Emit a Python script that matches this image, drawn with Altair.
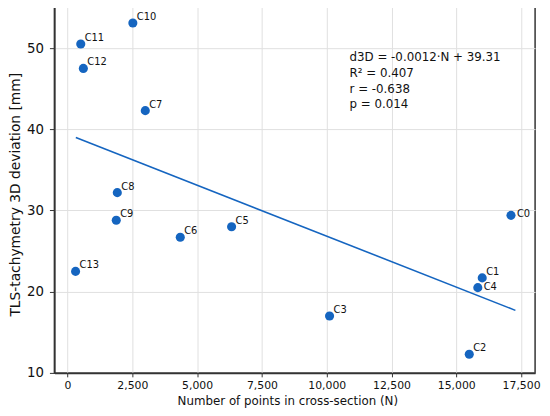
import altair as alt
import pandas as pd

# Data
names = ["C0", "C1", "C2", "C3", "C4", "C5", "C6", "C7", "C8", "C9", "C10", "C11", "C12", "C13"]
n_points = [17110, 16000, 15500, 10110, 15830, 6330, 4350, 3000, 1920, 1880, 2520, 510, 610, 310]
deviation = [29.4, 21.7, 12.3, 17.0, 20.5, 28.0, 26.7, 42.3, 32.2, 28.8, 53.1, 50.5, 47.5, 22.5]

fit_n = [320, 17280]
fit_d = [39.0, 17.7]

side_labels = ["C0", "C4"]

x_ticks = [0, 2500, 5000, 7500, 10000, 12500, 15000, 17500]
y_ticks = [10, 20, 30, 40, 50]

annotation = "d3D = -0.0012·N + 39.31\nR² = 0.407\nr = -0.638\np = 0.014"

BLUE = "#1565C0"
FONT = "DejaVu Sans"

df = pd.DataFrame({"name": names, "N": n_points, "d": deviation})
df["side"] = df["name"].isin(side_labels)
fit = pd.DataFrame({"N": fit_n, "d": fit_d})

xscale = alt.Scale(domain=[-507, 18040], nice=False, zero=False)
yscale = alt.Scale(domain=[10, 55.1], nice=False, zero=False)

x_enc = alt.X(
    "N:Q", scale=xscale,
    axis=alt.Axis(
        values=x_ticks, format=",.0f", title="Number of points in cross-section (N)",
        labelFontSize=11, labelPadding=3, tickSize=4,
        titleFontSize=12, titleFontWeight="normal", titleBaseline="middle",
        titleX=236, titleY=28.5, titleAlign="center",
    ),
)
y_enc = alt.Y(
    "d:Q", scale=yscale,
    axis=alt.Axis(
        values=y_ticks, title="TLS-tachymetry 3D deviation [mm]",
        labelFontSize=13.5, labelPadding=6, tickSize=5,
        titleFontSize=14, titleFontWeight="normal", titleBaseline="middle",
        titleX=-39, titleY=190, titleAlign="center", titleAngle=270,
    ),
)

line = alt.Chart(fit).mark_line(color=BLUE, strokeWidth=1.6).encode(x=x_enc, y=y_enc)

points = alt.Chart(df).mark_circle(color=BLUE, size=85, opacity=1).encode(x=x_enc, y=y_enc)

labels_top = alt.Chart(df).transform_filter("!datum.side").mark_text(
    align="left", baseline="alphabetic", dx=4, dy=-3, fontSize=10, font=FONT, color="#111"
).encode(x=x_enc, y=y_enc, text="name:N")

labels_side = alt.Chart(df).transform_filter("datum.side").mark_text(
    align="left", baseline="middle", dx=6, dy=-1, fontSize=10, font=FONT, color="#111"
).encode(x=x_enc, y=y_enc, text="name:N")

note = alt.Chart(pd.DataFrame({"t": [annotation]})).mark_text(
    align="left", baseline="top", lineBreak="\n", lineHeight=16,
    fontSize=12, font=FONT, color="#111"
).encode(x=alt.value(299), y=alt.value(46), text="t:N")

chart = alt.layer(line, points, labels_top, labels_side, note).properties(
    width=487, height=371,
    autosize=alt.AutoSizeParams(type="none"),
    padding={"left": 47, "top": -4, "right": 7, "bottom": 42},
).configure(font=FONT).configure_view(
    stroke="#333333", strokeWidth=1.5
).configure_axis(
    grid=True, gridColor="#e0e0e0", gridWidth=1,
    domainColor="#333333", domainWidth=1.5,
    tickColor="#333333", tickWidth=1,
    labelColor="#111111", titleColor="#111111",
    labelFont=FONT, titleFont=FONT,
)

chart.save("out.html", embed_options={"renderer": "svg", "actions": False})
